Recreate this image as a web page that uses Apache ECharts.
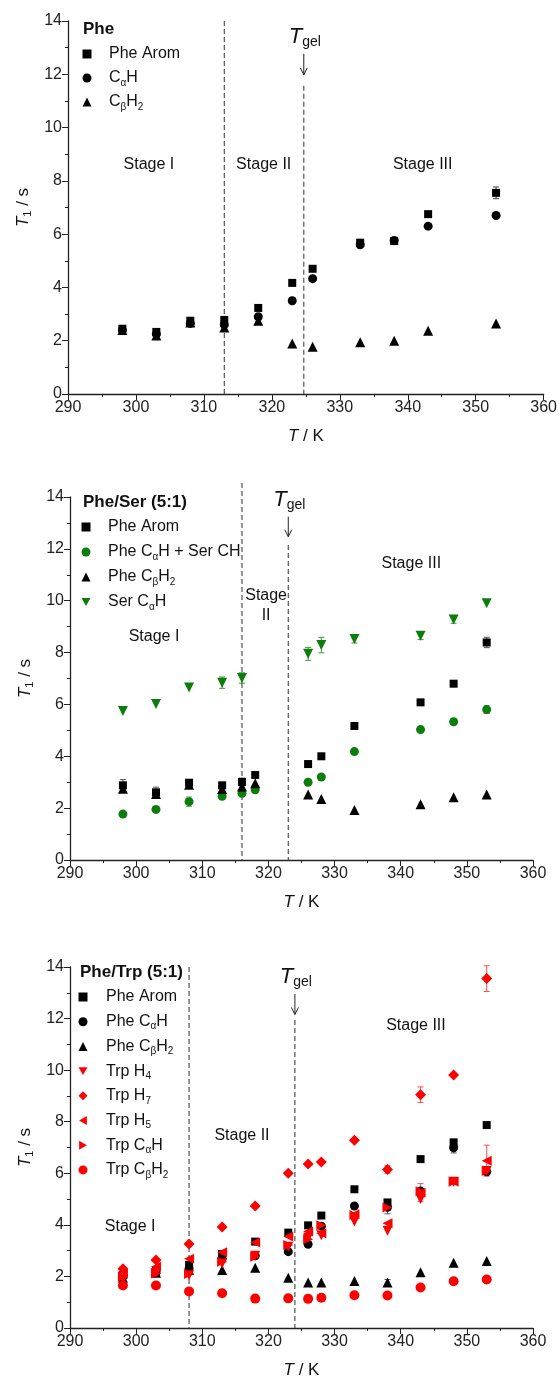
<!DOCTYPE html>
<html><head><meta charset="utf-8">
<script src="https://cdn.jsdelivr.net/npm/echarts@6/dist/echarts.min.js"></script>
<style>html,body{margin:0;padding:0;background:#fff}#c{width:560px;height:1383px}</style>
</head><body><div id="c"></div><script>
const FONT = '"Liberation Sans", Arial, sans-serif';

// ---------- DATA ----------
// Panel 1: Phe
const temps1 = [298, 303, 308, 313, 318, 323, 326, 333, 338, 343, 353];
const pheArom1 = [2.45, 2.33, 2.75, 2.78, 3.23, 4.17, 4.70, 5.68, 5.74, 6.75, 7.55];
const pheArom1Err = [0.1, 0.12, 0, 0, 0, 0, 0, 0, 0, 0, 0.22];
const pheCaH1 = [2.40, 2.25, 2.65, 2.60, 2.90, 3.50, 4.33, 5.60, 5.76, 6.30, 6.70];
const pheCbH2_1 = [2.40, 2.20, 2.68, 2.50, 2.75, 1.90, 1.77, 1.94, 2.00, 2.37, 2.65];
const boundaries1 = [313, 324.7];

// Panel 2: Phe/Ser (5:1)
const temps2 = [298, 303, 308, 313, 316, 318, 326, 328, 333, 343, 348, 353];
const pheArom2 = [2.88, 2.61, 2.98, 2.88, 3.01, 3.28, 3.70, 4.00, 5.17, 6.08, 6.80, 8.39];
const pheArom2Err = [0.22, 0.2, 0.1, 0.1, 0.15, 0, 0, 0, 0, 0, 0, 0.2];
const pheCaSerCH2 = [1.77, 1.95, 2.25, 2.46, 2.57, 2.71, 3.00, 3.20, 4.18, 5.03, 5.33, 5.80];
const pheCaSerCH2Err = [0, 0, 0.18, 0, 0, 0, 0, 0, 0, 0, 0, 0.15];
const pheCbH2_2 = [2.75, 2.55, 2.90, 2.74, 2.83, 2.96, 2.53, 2.35, 1.93, 2.15, 2.42, 2.53];
const serCaH2 = [5.75, 6.02, 6.65, 6.84, 7.02, null, 7.95, 8.29, 8.52, 8.65, 9.28, 9.90];
const serCaH2Err = [0, 0, 0, 0.22, 0.2, 0, 0.25, 0.3, 0.15, 0.15, 0.15, 0];
const boundaries2 = [316, 323];

// Panel 3: Phe/Trp (5:1)
const temps3 = [298, 303, 308, 313, 318, 323, 326, 328, 333, 338, 343, 348, 353];
const pheArom3 = [2.05, 2.25, 2.45, 2.87, 3.35, 3.70, 3.98, 4.36, 5.38, 4.87, 6.55, 7.20, 7.87];
const pheCaH3 = [2.00, 2.15, 2.30, 2.70, 2.80, 2.96, 3.25, 3.95, 4.73, 4.68, 5.31, 6.99, 6.06];
const pheCaH3Err = [0, 0, 0, 0, 0, 0, 0, 0, 0, 0.25, 0, 0.2, 0];
const pheCbH2_3 = [1.95, 2.14, 2.25, 2.25, 2.34, 1.95, 1.76, 1.76, 1.82, 1.76, 2.16, 2.53, 2.60];
const pheCbH2_3Err = [0, 0, 0, 0, 0, 0, 0, 0, 0, 0.12, 0, 0, 0];
const trpH4 = [1.90, 2.13, 2.05, 2.50, 2.80, 3.15, 3.50, 3.60, 4.13, 3.77, 5.00, 5.67, 6.09];
const trpH7 = [2.30, 2.64, 3.26, 3.92, 4.73, 6.00, 6.36, 6.44, 7.28, 6.15, 9.05, 9.81, 13.55];
const trpH7Err = [0, 0, 0, 0, 0, 0, 0, 0, 0, 0.15, 0.3, 0, 0.5];
const trpH5 = [2.10, 2.38, 2.69, 2.94, 3.32, 3.55, 3.74, 3.67, 4.41, 4.06, 5.25, 5.67, 6.49];
const trpH5Err = [0, 0, 0, 0, 0, 0, 0, 0, 0, 0, 0.35, 0, 0.6];
const trpCaH = [2.00, 2.11, 2.09, 2.57, 2.76, 3.22, 3.44, 3.98, 4.38, 4.67, 5.30, 5.67, 6.09];
const trpCbH2 = [1.65, 1.65, 1.42, 1.35, 1.14, 1.15, 1.13, 1.17, 1.27, 1.26, 1.57, 1.81, 1.88];
const boundaries3 = [308, 324];

const xTicks = { min: 290, max: 360, interval: 10 };
const yTicks = { min: 0, max: 14, interval: 2 };

// ---------- LAYOUT / STYLE ----------
const BLACK = '#000000', GREEN = '#0b7d0b', RED = '#ff0000';
const grids = [
  { left: 68, top: 21, width: 476, height: 373 },
  { left: 70, top: 497, width: 463, height: 363 },
  { left: 70, top: 967, width: 463, height: 361 }
];
const annotations = [
  { lineTops: [14, 11.57], tgelY: 13.40, arrow: [12.77, 11.98],
    stages: [['Stage I', 301.9, 8.61], ['Stage II', 318.8, 8.61], ['Stage III', 342.2, 8.61]] },
  { lineTops: [14.54, 12.15], tgelY: 13.88, arrow: [13.24, 12.47],
    stages: [['Stage I', 302.7, 8.6], ['Stage', 319.65, 10.18], ['II', 319.65, 9.41], ['Stage III', 341.6, 11.45]] },
  { lineTops: [14, 11.94], tgelY: 13.62, arrow: [12.95, 12.16],
    stages: [['Stage I', 299.1, 3.92], ['Stage II', 316.0, 7.48], ['Stage III', 342.3, 11.71]] }
];
const boundaries = [boundaries1, boundaries2, boundaries3];

const LABELS = {
  p1_arom: 'Phe Arom', p1_ca: 'C{s|α}H', p1_cb: 'C{s|β}H{s|2}',
  p2_arom: 'Phe Arom', p2_ca: 'Phe C{s|α}H + Ser CH', p2_cb: 'Phe C{s|β}H{s|2}', p2_ser: 'Ser C{s|α}H',
  p3_arom: 'Phe Arom', p3_ca: 'Phe C{s|α}H', p3_cb: 'Phe C{s|β}H{s|2}', p3_h4: 'Trp H{s|4}',
  p3_h7: 'Trp H{s|7}', p3_h5: 'Trp H{s|5}', p3_tca: 'Trp C{s|α}H', p3_tcb: 'Trp C{s|β}H{s|2}'
};
const ICON_DOWN = 'path://M0,0L20,0L10,17.3Z';
const ICON_LEFT = 'path://M17.3,0L17.3,20L0,10Z';
const ICON_RIGHT = 'path://M0,0L0,20L17.3,10Z';
const ROT_ICONS = { 180: ICON_DOWN, 90: ICON_LEFT, '-90': ICON_RIGHT };
const legendIcons = {};

function pairs(ts, vs) {
  const out = [];
  ts.forEach((t, i) => { if (vs[i] != null) out.push([t, vs[i]]); });
  return out;
}
function errPairs(ts, vs, es) {
  const out = [];
  ts.forEach((t, i) => { if (vs[i] != null && es[i]) out.push([t, vs[i] - es[i], vs[i] + es[i]]); });
  return out;
}

const series = [];
function addErr(gi, ts, vs, es, color) {
  series.push({
    type: 'custom', xAxisIndex: gi, yAxisIndex: gi, z: 1, silent: true,
    data: errPairs(ts, vs, es), encode: { x: 0, y: [1, 2] },
    renderItem: (params, api) => {
      const x = api.value(0);
      const a = api.coord([x, api.value(2)]), b = api.coord([x, api.value(1)]);
      const st = { stroke: color, lineWidth: 1, fill: null };
      const w = 3;
      return { type: 'group', children: [
        { type: 'line', shape: { x1: a[0], y1: a[1], x2: b[0], y2: b[1] }, style: st },
        { type: 'line', shape: { x1: a[0] - w, y1: a[1], x2: a[0] + w, y2: a[1] }, style: st },
        { type: 'line', shape: { x1: b[0] - w, y1: b[1], x2: b[0] + w, y2: b[1] }, style: st }
      ]};
    }
  });
}
function addScatter(gi, name, ts, vs, symbol, size, rot, color) {
  if (rot && ROT_ICONS[rot]) legendIcons[name] = ROT_ICONS[rot];
  series.push({
    type: 'scatter', name, xAxisIndex: gi, yAxisIndex: gi, z: 3,
    symbol, symbolSize: size, symbolRotate: rot, itemStyle: { color, opacity: 1 },
    data: pairs(ts, vs)
  });
}

// Panel 1
addErr(0, temps1, pheArom1, pheArom1Err, '#444');
addScatter(0, 'p1_arom', temps1, pheArom1, 'rect', 8, 0, BLACK);
addScatter(0, 'p1_ca', temps1, pheCaH1, 'circle', 9, 0, BLACK);
addScatter(0, 'p1_cb', temps1, pheCbH2_1, 'triangle', 10, 0, BLACK);
// Panel 2
addErr(1, temps2, pheArom2, pheArom2Err, '#555');
addErr(1, temps2, pheCaSerCH2, pheCaSerCH2Err, '#5aa55a');
addErr(1, temps2, serCaH2, serCaH2Err, '#3c9a3c');
addScatter(1, 'p2_arom', temps2, pheArom2, 'rect', 8, 0, BLACK);
addScatter(1, 'p2_ca', temps2, pheCaSerCH2, 'circle', 9, 0, GREEN);
addScatter(1, 'p2_cb', temps2, pheCbH2_2, 'triangle', 10, 0, BLACK);
addScatter(1, 'p2_ser', temps2, serCaH2, 'triangle', 10, 180, GREEN);
// Panel 3
addErr(2, temps3, pheCaH3, pheCaH3Err, '#555');
addErr(2, temps3, pheCbH2_3, pheCbH2_3Err, '#555');
addErr(2, temps3, trpH7, trpH7Err, '#ff5050');
addErr(2, temps3, trpH5, trpH5Err, '#ff5050');
addScatter(2, 'p3_arom', temps3, pheArom3, 'rect', 8, 0, BLACK);
addScatter(2, 'p3_ca', temps3, pheCaH3, 'circle', 9, 0, BLACK);
addScatter(2, 'p3_cb', temps3, pheCbH2_3, 'triangle', 10, 0, BLACK);
addScatter(2, 'p3_h4', temps3, trpH4, 'triangle', 10, 180, RED);
addScatter(2, 'p3_h7', temps3, trpH7, 'diamond', 11, 0, RED);
addScatter(2, 'p3_h5', temps3, trpH5, 'triangle', 10, 90, RED);
addScatter(2, 'p3_tca', temps3, trpCaH, 'triangle', 10, -90, RED);
addScatter(2, 'p3_tcb', temps3, trpCbH2, 'circle', 10, 0, RED);

// Annotations (dashed boundaries, T_gel, stage labels)
annotations.forEach((an, gi) => {
  const bnd = boundaries[gi];
  series.push({
    type: 'custom', xAxisIndex: gi, yAxisIndex: gi, z: 2, silent: true, clip: false,
    data: [[bnd[1], 0]],
    renderItem: (params, api) => {
      const ch = [];
      bnd.forEach((bx, k) => {
        const a = api.coord([bx, an.lineTops[k]]), b = api.coord([bx, 0]);
        ch.push({ type: 'line', shape: { x1: a[0], y1: a[1], x2: b[0], y2: b[1] },
          style: { stroke: '#444', lineWidth: 1.1, lineDash: [5, 3] } });
      });
      const tg = bnd[1];
      const tp = api.coord([tg, an.tgelY]);
      ch.push({ type: 'text', x: tp[0] + 1, y: tp[1], style: {
        text: '{i|T}{g|gel}', align: 'center', verticalAlign: 'middle', fill: '#111',
        rich: { i: { fontSize: 22, fontStyle: 'italic', fontFamily: FONT, lineHeight: 24, fill: '#111' },
                g: { fontSize: 14, fontFamily: FONT, lineHeight: 8, verticalAlign: 'bottom', fill: '#111' } } } });
      const a1 = api.coord([tg, an.arrow[0]]), a2 = api.coord([tg, an.arrow[1]]);
      const ast = { stroke: '#222', lineWidth: 1, fill: null };
      ch.push({ type: 'line', shape: { x1: a1[0], y1: a1[1], x2: a2[0], y2: a2[1] }, style: ast });
      ch.push({ type: 'polyline', shape: { points: [[a2[0] - 3.5, a2[1] - 7], [a2[0], a2[1]], [a2[0] + 3.5, a2[1] - 7]] }, style: ast });
      an.stages.forEach(s => {
        const p = api.coord([s[1], s[2]]);
        ch.push({ type: 'text', x: p[0], y: p[1], style: { text: s[0], align: 'center', verticalAlign: 'middle',
          fontSize: 16, fontFamily: FONT, fill: '#111' } });
      });
      return { type: 'group', children: ch };
    }
  });
});

const axisCommon = {
  axisLine: { show: true, onZero: false, lineStyle: { color: '#222', width: 1.3 } },
  axisTick: { show: true, inside: false, length: 6, lineStyle: { color: '#222', width: 1 } },
  minorTick: { show: true, splitNumber: 2, length: 3, lineStyle: { color: '#222', width: 1 } },
  splitLine: { show: false },
  minorSplitLine: { show: false }
};
const xAxes = grids.map((g, gi) => Object.assign({}, axisCommon, {
  type: 'value', gridIndex: gi, min: xTicks.min, max: xTicks.max, interval: xTicks.interval,
  name: '{i|T} / K', nameLocation: 'middle', nameGap: 34,
  nameTextStyle: { fontSize: 17, fontFamily: FONT, color: '#111',
    rich: { i: { fontSize: 17, fontStyle: 'italic', fontFamily: FONT, color: '#111' } } },
  axisLabel: { fontSize: 16, fontFamily: FONT, color: '#222', margin: 6 }
}));
const yAxes = grids.map((g, gi) => Object.assign({}, axisCommon, {
  type: 'value', gridIndex: gi, min: yTicks.min, max: yTicks.max, interval: yTicks.interval,
  name: '{i|T}{s|1} / s', nameLocation: 'middle', nameGap: 33,
  nameTextStyle: { fontSize: 17, fontFamily: FONT, color: '#111', lineHeight: 20,
    rich: { i: { fontSize: 17, fontStyle: 'italic', fontFamily: FONT, color: '#111', lineHeight: 20 },
            s: { fontSize: 11, fontFamily: FONT, color: '#111', lineHeight: 8, verticalAlign: 'bottom' } } },
  axisLabel: { fontSize: 16, fontFamily: FONT, color: '#222', margin: 6 }
}));

function legend(names, iconX, firstRowY, textX, gap) {
  const iw = 9;
  const left = iconX - iw / 2;
  return { orient: 'vertical', left, top: firstRowY - 10, itemGap: gap, itemWidth: iw, itemHeight: 9, padding: 0,
    selectedMode: false,
    data: names.map(n => legendIcons[n] ? { name: n, icon: legendIcons[n] } : n),
    formatter: n => LABELS[n],
    textStyle: {
      fontSize: 16, fontFamily: FONT, color: '#111', lineHeight: 20,
      padding: [0, 0, 0, textX - (left + iw + 5)],
      rich: { s: { fontSize: 10, fontFamily: FONT, color: '#111', lineHeight: 8, verticalAlign: 'bottom' } }
    } };
}

const option = {
  animation: false,
  backgroundColor: '#fff',
  title: [
    { text: 'Phe', left: 83, top: 21, padding: 0, textStyle: { fontSize: 17, fontWeight: 'bold', fontFamily: FONT, color: '#111' } },
    { text: 'Phe/Ser (5:1)', left: 83, top: 494, padding: 0, textStyle: { fontSize: 17, fontWeight: 'bold', fontFamily: FONT, color: '#111' } },
    { text: 'Phe/Trp (5:1)', left: 80, top: 964, padding: 0, textStyle: { fontSize: 17, fontWeight: 'bold', fontFamily: FONT, color: '#111' } }
  ],
  legend: [
    legend(['p1_arom', 'p1_ca', 'p1_cb'], 87, 54, 109, 4),
    legend(['p2_arom', 'p2_ca', 'p2_cb', 'p2_ser'], 86, 527, 108, 5),
    legend(['p3_arom', 'p3_ca', 'p3_cb', 'p3_h4', 'p3_h7', 'p3_h5', 'p3_tca', 'p3_tcb'], 83, 997, 106, 4.7)
  ],
  grid: grids,
  xAxis: xAxes,
  yAxis: yAxes,
  series
};
const chart = echarts.init(document.getElementById('c'), null, { renderer: 'canvas' });
chart.setOption(option);
</script></body></html>
